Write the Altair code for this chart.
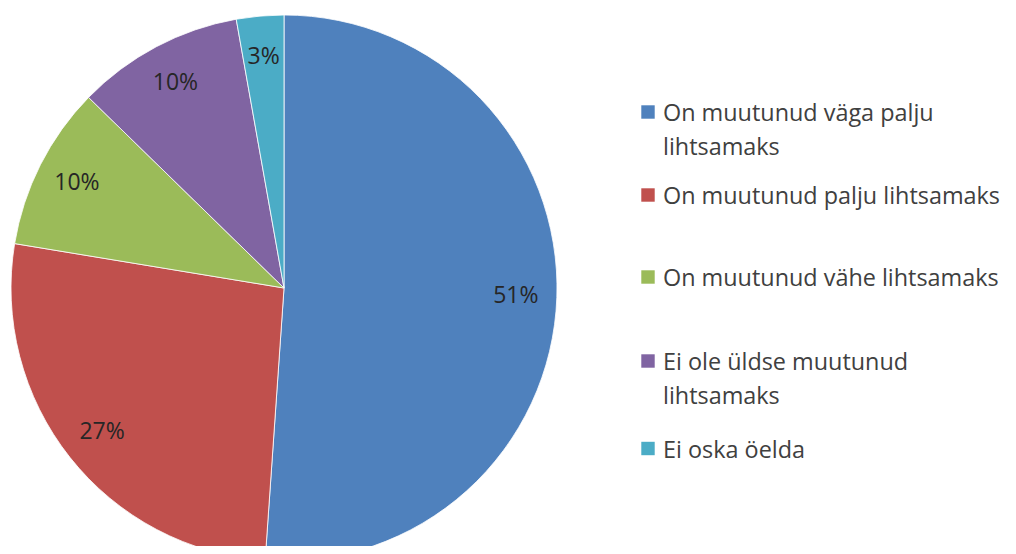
import altair as alt
import pandas as pd

categories = [
    "On muutunud väga palju lihtsamaks",
    "On muutunud palju lihtsamaks",
    "On muutunud vähe lihtsamaks",
    "Ei ole üldse muutunud lihtsamaks",
    "Ei oska öelda",
]
legend_lines = [
    "On muutunud väga palju\nlihtsamaks",
    "On muutunud palju lihtsamaks",
    "On muutunud vähe lihtsamaks",
    "Ei ole üldse muutunud\nlihtsamaks",
    "Ei oska öelda",
]
shares = [51.1, 26.5, 9.7, 9.9, 2.8]
labels = ["51%", "27%", "10%", "10%", "3%"]
colors = ["#4F81BD", "#C0504D", "#9BBB59", "#8064A2", "#4BACC6"]

df = pd.DataFrame({
    "cat": categories,
    "legend": legend_lines,
    "share": shares,
    "label": labels,
    "order": list(range(len(categories))),
})

CX, CY, R = 276, 280, 273
FONT = "Open Sans"

color = alt.Color("cat:N", scale=alt.Scale(domain=categories, range=colors), legend=None)
theta = alt.Theta("share:Q", stack=True)
order = alt.Order("order:Q", sort="ascending")

base = alt.Chart(df)

pie = base.mark_arc(outerRadius=R, stroke="white", strokeWidth=0.8).encode(
    theta=theta, color=color, order=order,
    x=alt.value(CX), y=alt.value(CY),
)

pie_labels = base.mark_text(radius=232, font=FONT, fontSize=23, color="#262626").encode(
    theta=theta, order=order, text="label:N",
    x=alt.value(CX), y=alt.value(CY),
)

ypos = alt.Y(
    "order:Q",
    scale=alt.Scale(domain=[0, 1, 2, 3, 4], range=[104, 187, 269, 353, 440.5]),
    axis=None,
)

legend_sq = base.mark_square(size=180, opacity=1).encode(
    x=alt.value(640), y=ypos, color=color,
)

legend_txt = base.mark_text(
    align="left", baseline="alphabetic", dy=9, lineBreak="\n", lineHeight=34,
    font=FONT, fontSize=23.4, color="#404040",
).encode(
    x=alt.value(655), y=ypos, text="legend:N",
)

chart = alt.layer(pie, pie_labels, legend_sq, legend_txt).properties(
    width=1000, height=538,
    autosize=alt.AutoSizeParams(type="none"),
    padding=0,
    background="white",
).configure_view(stroke=None)

chart.save("out.html", embed_options={"renderer": "svg", "actions": False})
